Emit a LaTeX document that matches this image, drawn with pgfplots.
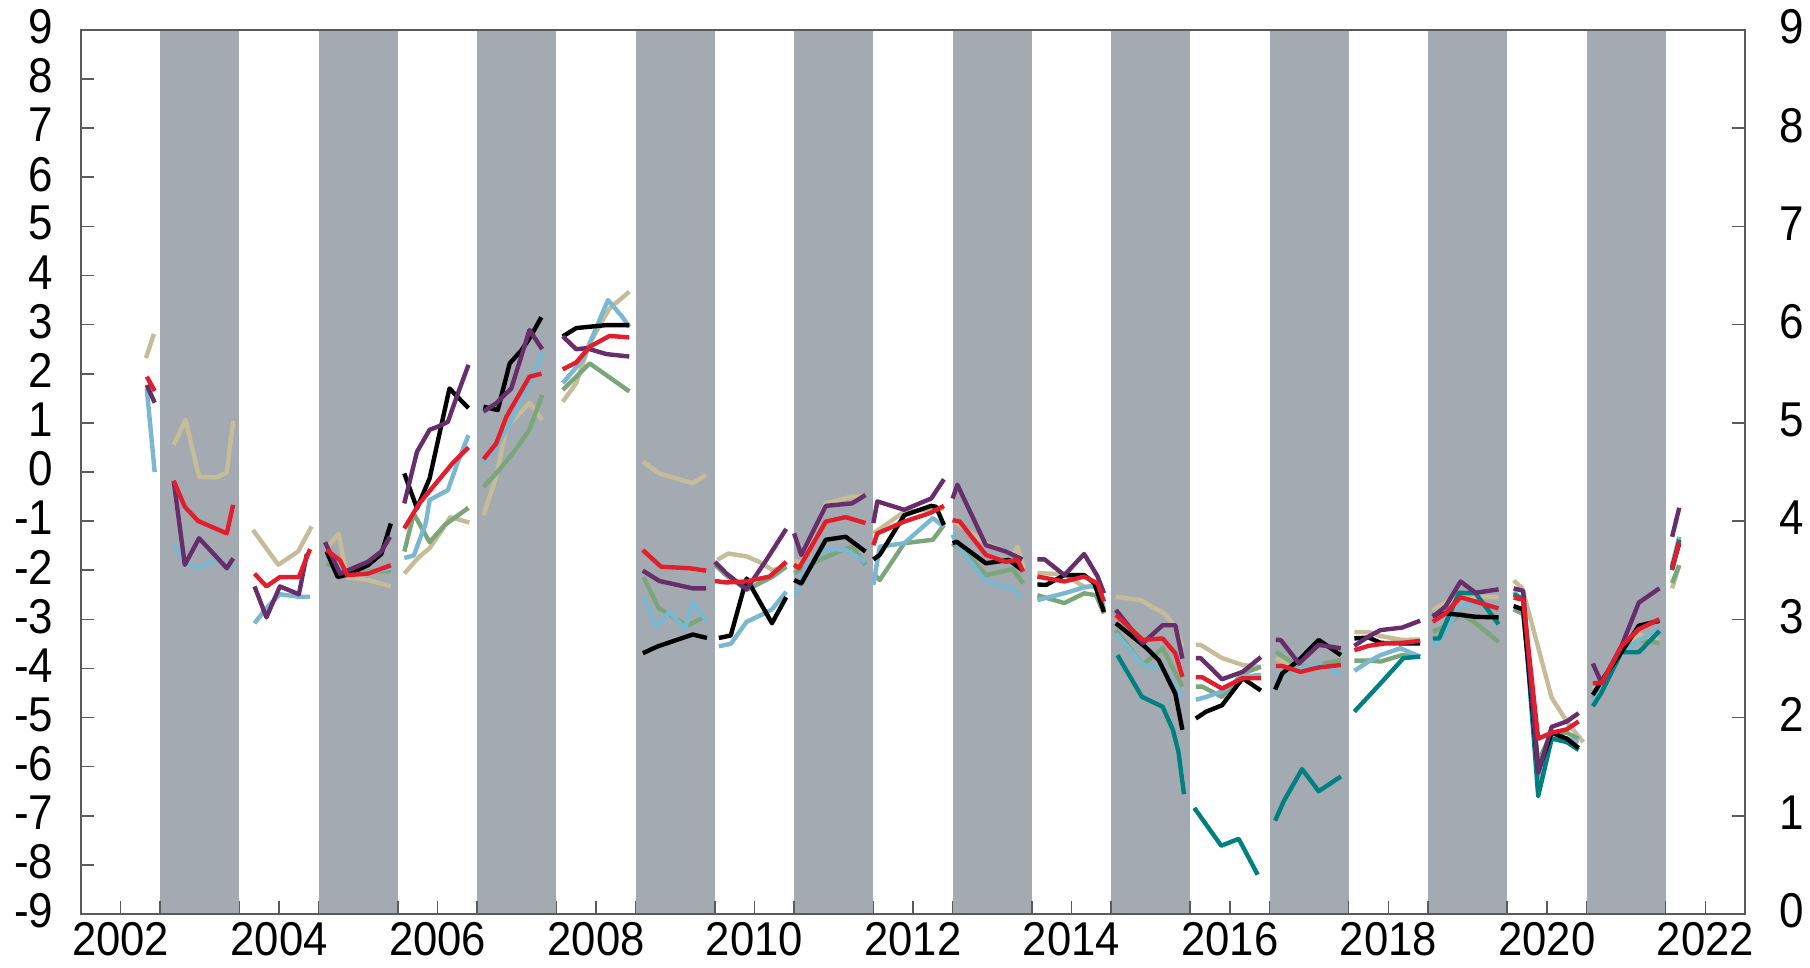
\documentclass[border=0pt]{standalone}
\usepackage{fontspec}
\setmainfont{Liberation Sans}
\usepackage{pgfplots}
\usepackage{pgfplotstable}
\pgfplotsset{compat=1.18}
\definecolor{band}{RGB}{163,170,177}
\definecolor{cred}{RGB}{226,30,45}
\definecolor{cpurple}{RGB}{104,46,108}
\definecolor{cblue}{RGB}{122,183,208}
\definecolor{ctan}{RGB}{198,188,152}
\definecolor{cgreen}{RGB}{122,166,122}
\definecolor{cteal}{RGB}{0,128,128}
\definecolor{axgray}{RGB}{90,90,90}
\newcommand\xl[1]{\scalebox{0.92}[1]{#1}}
\newcommand\yl[1]{\scalebox{0.9}[1]{#1}}

\pgfplotstableread{
x y
2005.10 -1.62
2005.24 -2.14
2005.36 -2.09
2005.62 -1.90
2005.79 -1.67
2005.91 -1.05
2006.0 nan
2006.08 -0.03
2006.24 -0.74
2006.40 -0.13
2006.65 1.70
2006.89 1.30
2007.0 nan
2007.08 1.33
2007.26 1.26
2007.41 2.21
2007.56 2.48
2007.66 2.72
2007.81 3.15
2008.0 nan
2008.08 2.76
2008.25 2.93
2008.50 2.97
2008.63 2.99
2008.92 2.99
2009.0 nan
2009.09 -3.69
2009.28 -3.55
2009.50 -3.43
2009.72 -3.31
2009.90 -3.38
2010.0 nan
2010.05 -3.38
2010.20 -3.33
2010.40 -2.17
2010.72 -3.08
2010.90 -2.55
2011.0 nan
2011.00 -2.20
2011.09 -2.27
2011.40 -1.38
2011.65 -1.32
2011.90 -1.62
2012.0 nan
2012.00 -1.78
2012.08 -1.69
2012.39 -0.88
2012.73 -0.69
2012.79 -0.71
2012.89 -1.08
2013.0 nan
2013.00 -1.45
2013.05 -1.42
2013.42 -1.86
2013.71 -1.79
2013.88 -2.00
2014.0 nan
2014.07 -2.29
2014.18 -2.30
2014.41 -2.10
2014.66 -2.10
2014.79 -2.27
2014.91 -2.85
2015.0 nan
2015.06 -3.08
2015.43 -3.56
2015.60 -3.83
2015.81 -4.51
2015.90 -5.25
2016.0 nan
2016.07 -5.02
2016.20 -4.88
2016.40 -4.75
2016.66 -4.20
2016.89 -4.45
2017.0 nan
2017.07 -4.43
2017.16 -4.10
2017.37 -3.83
2017.62 -3.42
2017.90 -3.73
2018.0 nan
2018.07 -3.39
2018.25 -3.37
2018.40 -3.48
2018.67 -3.49
2018.90 -3.49
2019.0 nan
2019.06 -2.93
2019.22 -2.88
2019.41 -2.91
2019.60 -2.95
2019.89 -2.96
2020.0 nan
2020.08 -2.73
2020.20 -2.80
2020.39 -6.09
2020.56 -5.31
2020.75 -5.43
2020.90 -5.62
2021.0 nan
2021.08 -4.54
2021.19 -4.25
2021.44 -3.67
2021.66 -3.13
2021.92 -3.03
2022.0 nan
2022.08 -1.95
2022.17 -1.45
}\blackdata

\pgfplotstableread{
x y
2002.83 1.94
2002.93 1.65
2003.0 nan
2003.17 -0.18
2003.31 -0.71
2003.48 -1.00
2003.84 -1.25
2003.92 -0.67
2004.0 nan
2004.19 -2.07
2004.34 -2.33
2004.51 -2.14
2004.75 -2.14
2004.89 -1.57
2005.0 nan
2005.10 -1.59
2005.27 -1.80
2005.36 -2.10
2005.62 -2.07
2005.91 -1.90
2006.0 nan
2006.08 -1.15
2006.27 -0.64
2006.48 -0.23
2006.69 0.18
2006.89 0.50
2007.0 nan
2007.08 0.26
2007.24 0.58
2007.37 1.13
2007.66 1.94
2007.81 2.00
2008.0 nan
2008.08 2.09
2008.25 2.23
2008.42 2.55
2008.67 2.77
2008.92 2.74
2009.0 nan
2009.09 -1.59
2009.32 -1.93
2009.68 -1.96
2009.89 -2.01
2010.0 nan
2010.00 -2.22
2010.14 -2.25
2010.39 -2.23
2010.69 -2.13
2010.90 -1.83
2011.0 nan
2011.00 -1.89
2011.06 -1.96
2011.40 -1.01
2011.65 -0.92
2011.90 -1.04
2012.0 nan
2012.00 -1.49
2012.05 -1.25
2012.39 -1.01
2012.71 -0.84
2012.89 -0.69
2013.0 nan
2013.00 -0.98
2013.09 -1.01
2013.42 -1.69
2013.67 -1.83
2013.82 -1.79
2013.89 -2.03
2014.0 nan
2014.07 -2.13
2014.41 -2.23
2014.66 -2.13
2014.83 -2.27
2014.91 -2.64
2015.0 nan
2015.06 -2.91
2015.40 -3.42
2015.65 -3.39
2015.81 -3.69
2015.90 -4.17
2016.0 nan
2016.07 -4.18
2016.15 -4.18
2016.40 -4.41
2016.66 -4.20
2016.89 -4.20
2017.0 nan
2017.08 -3.95
2017.16 -3.95
2017.39 -4.07
2017.62 -3.98
2017.90 -3.93
2018.0 nan
2018.07 -3.63
2018.25 -3.54
2018.46 -3.49
2018.67 -3.48
2018.90 -3.44
2019.0 nan
2019.06 -3.05
2019.22 -2.88
2019.41 -2.55
2019.60 -2.64
2019.89 -2.78
2020.0 nan
2020.08 -2.56
2020.20 -2.60
2020.39 -5.43
2020.56 -5.31
2020.75 -5.24
2020.90 -5.08
2021.0 nan
2021.08 -4.30
2021.19 -4.30
2021.44 -3.55
2021.66 -3.20
2021.92 -3.00
2022.0 nan
2022.08 -1.97
2022.17 -1.43
}\reddata

\pgfplotstableread{
x y
2002.83 1.77
2002.93 1.41
2003.0 nan
2003.17 -0.18
2003.31 -1.89
2003.49 -1.35
2003.71 -1.73
2003.84 -1.96
2003.92 -1.76
2004.0 nan
2004.19 -2.33
2004.34 -2.96
2004.51 -2.33
2004.75 -2.49
2004.85 -1.67
2005.0 nan
2005.08 -1.43
2005.27 -2.07
2005.62 -1.83
2005.79 -1.62
2005.90 -1.32
2006.0 nan
2006.08 -0.64
2006.24 0.41
2006.40 0.86
2006.50 0.92
2006.63 1.02
2006.75 1.57
2006.89 2.18
2007.0 nan
2007.08 1.23
2007.24 1.40
2007.43 1.70
2007.66 2.89
2007.82 2.50
2008.0 nan
2008.08 2.76
2008.25 2.50
2008.38 2.52
2008.63 2.40
2008.92 2.35
2009.0 nan
2009.09 -2.01
2009.30 -2.22
2009.72 -2.37
2009.89 -2.37
2010.0 nan
2010.00 -1.83
2010.14 -2.06
2010.40 -2.39
2010.65 -1.79
2010.90 -1.16
2011.0 nan
2011.00 -1.25
2011.09 -1.69
2011.40 -0.69
2011.73 -0.64
2011.90 -0.47
2012.0 nan
2012.00 -1.04
2012.05 -0.60
2012.39 -0.77
2012.73 -0.54
2012.89 -0.15
2013.0 nan
2013.00 -0.54
2013.06 -0.26
2013.42 -1.49
2013.67 -1.62
2013.88 -1.78
2014.0 nan
2014.07 -1.78
2014.16 -1.78
2014.41 -2.10
2014.66 -1.67
2014.83 -2.13
2014.91 -2.47
2015.0 nan
2015.06 -2.81
2015.40 -3.49
2015.65 -3.12
2015.81 -3.12
2015.90 -3.80
2016.0 nan
2016.07 -3.79
2016.13 -3.79
2016.40 -4.22
2016.66 -4.07
2016.89 -3.77
2017.0 nan
2017.08 -3.42
2017.14 -3.42
2017.37 -3.90
2017.62 -3.52
2017.90 -3.59
2018.0 nan
2018.07 -3.54
2018.25 -3.35
2018.40 -3.22
2018.67 -3.17
2018.90 -3.03
2019.0 nan
2019.06 -2.95
2019.22 -2.74
2019.41 -2.23
2019.60 -2.46
2019.89 -2.39
2020.0 nan
2020.08 -2.37
2020.20 -2.42
2020.39 -6.13
2020.56 -5.19
2020.75 -5.08
2020.90 -4.91
2021.0 nan
2021.08 -3.90
2021.19 -4.30
2021.44 -3.55
2021.66 -2.66
2021.92 -2.37
2022.0 nan
2022.08 -1.32
2022.17 -0.73
}\purpledata

\pgfplotstableread{
x y
2002.83 1.70
2002.93 0.00
2003.0 nan
2003.17 -1.47
2003.32 -1.83
2003.49 -1.96
2003.71 -1.76
2003.84 -1.90
2003.92 -1.95
2004.0 nan
2004.19 -3.08
2004.34 -2.77
2004.51 -2.49
2004.75 -2.54
2004.89 -2.54
2005.0 nan
2005.10 -1.75
2005.36 -2.10
2005.62 -2.05
2005.91 -1.95
2006.0 nan
2006.08 -1.75
2006.20 -1.70
2006.35 -1.05
2006.40 -0.57
2006.63 -0.37
2006.75 0.18
2006.89 0.75
2007.0 nan
2007.08 0.18
2007.24 0.48
2007.50 1.26
2007.66 1.81
2007.83 2.45
2008.0 nan
2008.08 1.81
2008.33 2.28
2008.65 3.50
2008.83 3.16
2008.92 2.95
2009.0 nan
2009.10 -2.55
2009.26 -3.15
2009.43 -2.85
2009.62 -3.20
2009.72 -2.65
2009.90 -3.05
2010.0 nan
2010.05 -3.55
2010.20 -3.50
2010.40 -3.05
2010.60 -2.90
2010.72 -2.80
2010.90 -2.44
2011.0 nan
2011.02 -2.54
2011.15 -1.93
2011.40 -1.56
2011.65 -1.59
2011.90 -1.83
2012.0 nan
2012.00 -2.30
2012.08 -1.52
2012.39 -1.45
2012.75 -0.94
2012.89 -1.11
2013.0 nan
2013.00 -1.28
2013.05 -1.45
2013.40 -2.20
2013.76 -2.39
2013.88 -2.55
2014.0 nan
2014.07 -2.61
2014.41 -2.47
2014.66 -2.35
2014.83 -2.30
2014.91 -2.80
2015.0 nan
2015.06 -3.29
2015.40 -3.93
2015.65 -4.00
2015.90 -4.58
2016.0 nan
2016.07 -4.64
2016.20 -4.58
2016.40 -4.47
2016.66 -4.17
2016.89 -4.13
2017.0 nan
2017.08 -4.17
2017.37 -4.00
2017.62 -3.90
2017.90 -4.13
2018.0 nan
2018.07 -4.05
2018.25 -3.86
2018.40 -3.73
2018.65 -3.59
2018.90 -3.76
2019.0 nan
2019.06 -3.59
2019.22 -3.22
2019.41 -2.73
2019.60 -2.67
2019.89 -2.74
2020.0 nan
2020.08 -2.44
2020.20 -2.60
2020.39 -6.37
2020.56 -5.43
2020.75 -5.43
2020.90 -5.50
2021.0 nan
2021.08 -4.72
2021.19 -4.37
2021.44 -3.67
2021.66 -3.43
2021.92 -3.20
2022.0 nan
2022.08 -1.90
2022.17 -1.32
}\bluedata

\pgfplotstableread{
x y
2002.82 2.32
2002.92 2.81
2003.0 nan
2003.17 0.55
2003.32 1.06
2003.49 -0.10
2003.71 -0.11
2003.84 -0.01
2003.92 1.04
2004.0 nan
2004.17 -1.18
2004.49 -1.89
2004.74 -1.62
2004.91 -1.11
2005.0 nan
2005.10 -1.55
2005.25 -1.26
2005.36 -2.14
2005.62 -2.20
2005.91 -2.33
2006.0 nan
2006.08 -2.07
2006.26 -1.74
2006.40 -1.55
2006.57 -1.15
2006.66 -0.92
2006.90 -1.03
2007.0 nan
2007.08 -0.88
2007.24 -0.10
2007.37 0.92
2007.50 1.13
2007.66 1.41
2007.82 1.06
2008.0 nan
2008.08 1.43
2008.25 1.81
2008.42 2.62
2008.67 3.33
2008.92 3.67
2009.0 nan
2009.09 0.21
2009.30 -0.03
2009.72 -0.23
2009.89 -0.06
2010.0 nan
2010.03 -1.79
2010.17 -1.66
2010.40 -1.72
2010.56 -1.83
2010.73 -2.00
2010.90 -1.93
2011.0 nan
2011.00 -1.80
2011.09 -1.85
2011.40 -0.64
2011.57 -0.57
2011.73 -0.50
2011.90 -0.50
2012.0 nan
2012.00 -1.25
2012.39 -0.81
2012.69 -0.77
2012.89 -0.74
2013.0 nan
2013.00 -0.98
2013.42 -1.45
2013.76 -1.69
2013.82 -1.52
2013.90 -1.96
2014.0 nan
2014.07 -2.06
2014.41 -2.08
2014.66 -2.34
2014.83 -2.34
2015.0 nan
2015.06 -2.54
2015.37 -2.61
2015.67 -2.88
2015.81 -3.15
2015.90 -3.56
2016.0 nan
2016.07 -3.52
2016.13 -3.52
2016.40 -3.79
2016.66 -3.93
2016.89 -3.97
2017.0 nan
2017.08 -3.79
2017.37 -4.00
2017.62 -3.97
2017.90 -3.82
2018.0 nan
2018.07 -3.26
2018.25 -3.26
2018.40 -3.34
2018.67 -3.42
2018.90 -3.41
2019.0 nan
2019.06 -2.81
2019.22 -2.66
2019.41 -2.47
2019.60 -2.54
2019.89 -2.55
2020.0 nan
2020.08 -2.21
2020.19 -2.37
2020.56 -4.60
2020.78 -5.15
2020.96 -5.50
2021.0 nan
2021.08 -4.42
2021.19 -4.25
2021.44 -3.70
2021.66 -3.31
2021.92 -3.43
2022.0 nan
2022.08 -2.37
2022.17 -1.90
}\tandata

\pgfplotstableread{
x y
2005.10 -1.86
2005.36 -2.09
2005.65 -2.02
2005.91 -2.02
2006.0 nan
2006.08 -1.62
2006.20 -0.85
2006.40 -1.43
2006.59 -1.08
2006.89 -0.73
2007.0 nan
2007.08 -0.30
2007.24 -0.03
2007.45 0.38
2007.66 0.86
2007.82 1.57
2008.0 nan
2008.08 1.67
2008.25 1.94
2008.42 2.21
2008.92 1.64
2009.0 nan
2009.10 -2.14
2009.29 -2.77
2009.65 -3.13
2009.86 -2.96
2010.0 nan
2010.00 -1.89
2010.14 -2.10
2010.40 -2.40
2010.73 -2.13
2010.90 -1.93
2011.0 nan
2011.00 -2.06
2011.32 -1.79
2011.57 -1.62
2011.73 -1.52
2011.90 -1.89
2012.0 nan
2012.02 -2.10
2012.08 -2.20
2012.39 -1.45
2012.75 -1.38
2012.89 -1.08
2013.0 nan
2013.00 -1.52
2013.05 -1.44
2013.42 -2.10
2013.76 -1.98
2013.89 -2.27
2014.0 nan
2014.07 -2.51
2014.41 -2.67
2014.66 -2.47
2014.81 -2.51
2014.91 -2.88
2015.0 nan
2015.06 -3.22
2015.40 -3.93
2015.65 -3.59
2015.90 -4.37
2016.0 nan
2016.07 -4.37
2016.15 -4.37
2016.40 -4.58
2016.66 -4.10
2016.89 -3.97
2017.0 nan
2017.08 -3.66
2017.37 -3.97
2017.62 -3.93
2017.90 -3.83
2018.0 nan
2018.07 -3.84
2018.25 -3.84
2018.40 -3.86
2018.67 -3.73
2018.90 -3.76
2019.0 nan
2019.06 -3.25
2019.22 -3.15
2019.41 -2.88
2019.60 -3.08
2019.89 -3.46
2020.0 nan
2020.08 -2.80
2020.20 -2.89
2020.39 -5.90
2020.56 -5.31
2020.75 -5.31
2020.90 -5.43
2021.0 nan
2021.08 -4.60
2021.19 -4.37
2021.44 -3.67
2021.66 -3.43
2021.92 -3.48
2022.0 nan
2022.08 -2.26
2022.17 -1.90
}\greendata

\pgfplotstableread{
x y
2015.08 -3.73
2015.39 -4.58
2015.65 -4.78
2015.78 -5.25
2015.85 -5.70
2015.92 -6.56
2016.0 nan
2016.05 -6.84
2016.39 -7.61
2016.61 -7.47
2016.85 -8.20
2017.0 nan
2017.07 -7.10
2017.18 -6.70
2017.41 -6.05
2017.62 -6.50
2017.90 -6.20
2018.0 nan
2018.07 -4.88
2018.38 -4.34
2018.69 -3.79
2018.90 -3.76
2019.0 nan
2019.06 -3.39
2019.14 -3.39
2019.39 -2.46
2019.60 -2.47
2019.89 -3.10
2020.0 nan
2020.08 -2.49
2020.20 -2.60
2020.39 -6.60
2020.56 -5.43
2020.75 -5.50
2020.90 -5.66
2021.0 nan
2021.08 -4.77
2021.19 -4.49
2021.44 -3.67
2021.66 -3.67
2021.92 -3.24
2022.0 nan
2022.08 -2.00
2022.17 -1.38
}\tealdata

\begin{document}
\begin{tikzpicture}
\begin{axis}[
  at={(0,0)}, anchor=south west,
  scale only axis, width=166.4mm, height=88.4mm,
  xmin=2002, xmax=2023, ymin=-9, ymax=9,
  axis on top,
  unbounded coords=jump,
  axis line style={draw=axgray, line width=0.45pt},
  tick align=inside,
  xtick pos=lower, ytick pos=left,
  xtick={2003,2004,...,2022},
  xticklabels={},
  major tick length=1.3mm,
  x tick style={draw=axgray, line width=0.45pt},
  y tick style={draw=axgray, line width=0.45pt},
  extra x ticks={2002.5,2004.5,2006.5,2008.5,2010.5,2012.5,2014.5,2016.5,2018.5,2020.5,2022.5},
  extra x tick labels={\xl{2002},\xl{2004},\xl{2006},\xl{2008},\xl{2010},\xl{2012},\xl{2014},\xl{2016},\xl{2018},\xl{2020},\xl{2022}},
  extra x tick style={tick style={draw=none}},
  x tick label style={font=\fontsize{13.5}{14}\selectfont, anchor=north, inner sep=0pt, yshift=-0.8mm},
  ytick={-9,-8,...,9},
  yticklabels={\yl{-9},\yl{-8},\yl{-7},\yl{-6},\yl{-5},\yl{-4},\yl{-3},\yl{-2},\yl{-1},\yl{0},\yl{1},\yl{2},\yl{3},\yl{4},\yl{5},\yl{6},\yl{7},\yl{8},\yl{9}},
  y tick label style={font=\fontsize{13.9}{14}\selectfont, anchor=east, inner sep=0pt, xshift=-2.7mm, yshift=0.3mm},
  every axis plot/.append style={line width=1.25pt, line join=round},
]
\addplot[fill=band, draw=none, forget plot] coordinates {(2003,-9) (2004,-9) (2004,9) (2003,9)};
\addplot[fill=band, draw=none, forget plot] coordinates {(2005,-9) (2006,-9) (2006,9) (2005,9)};
\addplot[fill=band, draw=none, forget plot] coordinates {(2007,-9) (2008,-9) (2008,9) (2007,9)};
\addplot[fill=band, draw=none, forget plot] coordinates {(2009,-9) (2010,-9) (2010,9) (2009,9)};
\addplot[fill=band, draw=none, forget plot] coordinates {(2011,-9) (2012,-9) (2012,9) (2011,9)};
\addplot[fill=band, draw=none, forget plot] coordinates {(2013,-9) (2014,-9) (2014,9) (2013,9)};
\addplot[fill=band, draw=none, forget plot] coordinates {(2015,-9) (2016,-9) (2016,9) (2015,9)};
\addplot[fill=band, draw=none, forget plot] coordinates {(2017,-9) (2018,-9) (2018,9) (2017,9)};
\addplot[fill=band, draw=none, forget plot] coordinates {(2019,-9) (2020,-9) (2020,9) (2019,9)};
\addplot[fill=band, draw=none, forget plot] coordinates {(2021,-9) (2022,-9) (2022,9) (2021,9)};
\addplot[ctan] table {\tandata};
\addplot[cgreen] table {\greendata};
\addplot[cblue] table {\bluedata};
\addplot[cteal] table {\tealdata};
\addplot[black] table {\blackdata};
\addplot[cpurple] table {\purpledata};
\addplot[cred] table {\reddata};
\end{axis}
\begin{axis}[
  at={(0,0)}, anchor=south west,
  scale only axis, width=166.4mm, height=88.4mm,
  xmin=2002, xmax=2023, ymin=0, ymax=9,
  axis x line=none,
  axis y line*=right,
  axis line style={draw=axgray, line width=0.45pt},
  tick align=inside,
  major tick length=1.3mm,
  y tick style={draw=axgray, line width=0.45pt},
  ytick={0,1,...,9},
  yticklabels={\yl{0},\yl{1},\yl{2},\yl{3},\yl{4},\yl{5},\yl{6},\yl{7},\yl{8},\yl{9}},
  y tick label style={font=\fontsize{13.9}{14}\selectfont, anchor=west, inner sep=0pt, xshift=3.4mm, yshift=0.3mm},
]
\end{axis}
\pgfresetboundingbox
\useasboundingbox (-8.1mm,-5.4mm) rectangle (172.9mm,91.4mm);
\end{tikzpicture}
\end{document}
